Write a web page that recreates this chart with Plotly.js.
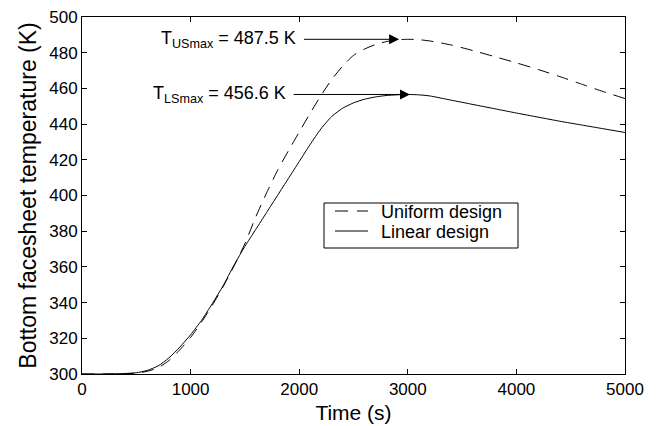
<!DOCTYPE html>
<html>
<head>
<meta charset="utf-8">
<script src="https://cdn.plot.ly/plotly-3.0.1.min.js"></script>
<style>html,body{margin:0;padding:0;background:#fff;}#chart{width:660px;height:426px;}</style>
</head>
<body>
<div id="chart"></div>
<script>
// Time (s)
const timeS = [0, 200, 400, 500, 600, 700, 800, 900, 1000, 1100, 1200, 1300, 1400, 1500, 1600, 1700, 1800, 1900, 2000, 2100, 2200, 2300, 2400, 2500, 2600, 2700, 2800, 2900, 3000, 3100, 3200, 3400, 3600, 3800, 4000, 4200, 4400, 4600, 4800, 5000];
// Uniform design (dashed)
const uniformT = [300, 300, 300.2, 300.5, 301.5, 303.5, 307.5, 313.5, 320.5, 329, 338.5, 349, 360.5, 373, 388, 401.5, 414, 425, 435.5, 446, 456, 465, 472.5, 478.5, 482, 484.5, 486.2, 487.2, 487.5, 487.3, 486.6, 484.3, 481.2, 477.8, 474.3, 470.6, 466.6, 462.4, 458.2, 454.3];
// Linear design (solid)
const linearT = [300, 300, 300.3, 300.7, 302, 304.5, 309, 315, 322, 330, 339.5, 349.5, 361, 371.5, 381, 390.5, 400, 409.5, 419, 428.5, 437.3, 444.3, 448.9, 451.9, 453.9, 455.2, 456, 456.4, 456.6, 456.4, 455.8, 453.4, 451, 448.6, 446.2, 443.9, 441.6, 439.5, 437.4, 435.3];

const seriesNames = ["Uniform design", "Linear design"];
const seriesDash = ["12px,8px", "solid"];
const xTicks = [0, 1000, 2000, 3000, 4000, 5000];
const yTicks = [300, 320, 340, 360, 380, 400, 420, 440, 460, 480, 500];

// annotation values: peak label, peak temperature, arrow tail time, arrow tip time, label right-edge time
const peakLabels = ["T<sub>USmax</sub> = 487.5 K", "T<sub>LSmax</sub> = 456.6 K"];
const peakValues = [487.5, 456.6];
const arrowTail = [2030, 1935];
const arrowTip = [2920, 3020];
const labelRight = [1985, 1900];

const FONT = "Liberation Sans, Arial, Helvetica, sans-serif";

const traces = [
  {x: timeS, y: uniformT, name: seriesNames[0], type: "scatter", mode: "lines",
   line: {color: "#000", width: 1, dash: seriesDash[0], shape: "spline", smoothing: 0.6}},
  {x: timeS, y: linearT, name: seriesNames[1], type: "scatter", mode: "lines",
   line: {color: "#000", width: 1, dash: seriesDash[1], shape: "spline", smoothing: 0.6}}
];

const annotations = [];
for (let i = 0; i < 2; i++) {
  annotations.push({
    x: arrowTip[i], y: peakValues[i], ax: arrowTail[i], ay: peakValues[i],
    xref: "x", yref: "y", axref: "x", ayref: "y",
    text: "", showarrow: true, arrowhead: 2, arrowsize: 2, arrowwidth: 1,
    arrowcolor: "#000", standoff: 0, startstandoff: 0
  });
  annotations.push({
    x: labelRight[i], y: peakValues[i], xref: "x", yref: "y",
    text: peakLabels[i], showarrow: false, xanchor: "right", yanchor: "middle",
    font: {family: FONT, size: 18, color: "#000"}
  });
}

// custom legend (pixel layout converted to paper coords)
const PL = 82, PR = 625, PT = 17, PB = 374;
const px = v => (v - PL) / (PR - PL);
const py = v => (PB - v) / (PB - PT);
const shapes = [
  {type: "rect", xref: "paper", yref: "paper", x0: px(324), x1: px(518), y0: py(248), y1: py(203),
   line: {color: "#000", width: 1}, fillcolor: "#fff", layer: "above"}
];
const legendRows = [211, 231];
for (let i = 0; i < 2; i++) {
  shapes.push({type: "line", xref: "paper", yref: "paper", x0: px(335), x1: px(368),
    y0: py(legendRows[i]), y1: py(legendRows[i]),
    line: {color: "#000", width: 1, dash: i === 0 ? "13px,9px" : "solid"}, layer: "above"});
  annotations.push({xref: "paper", yref: "paper", x: px(379), y: py(legendRows[i] + 1),
    xanchor: "left", yanchor: "middle", showarrow: false, text: seriesNames[i],
    font: {family: FONT, size: 18, color: "#000"}});
}

const axisCommon = {
  showline: true, linecolor: "#000", linewidth: 1, mirror: "ticks",
  ticks: "inside", ticklen: 5, tickwidth: 1, tickcolor: "#000",
  showgrid: false, zeroline: false,
  tickfont: {family: FONT, size: 17, color: "#000"}
};

const layout = {
  width: 660, height: 426,
  margin: {l: 82, r: 35, t: 17, b: 52},
  paper_bgcolor: "#fff", plot_bgcolor: "#fff",
  font: {family: FONT, color: "#000"},
  showlegend: false,
  xaxis: Object.assign({}, axisCommon, {
    range: [0, 5000], tickvals: xTicks, ticktext: xTicks.map(String),
    title: {text: "Time (s)", font: {family: FONT, size: 21, color: "#000"}, standoff: 6}
  }),
  yaxis: Object.assign({}, axisCommon, {
    range: [300, 500], tickvals: yTicks, ticktext: yTicks.map(String),
    title: {text: "Bottom facesheet temperature (K)", font: {family: FONT, size: 23, color: "#000"}, standoff: 6}
  }),
  shapes: shapes,
  annotations: annotations
};

Plotly.newPlot("chart", traces, layout, {displayModeBar: false, staticPlot: true});
</script>
</body>
</html>
